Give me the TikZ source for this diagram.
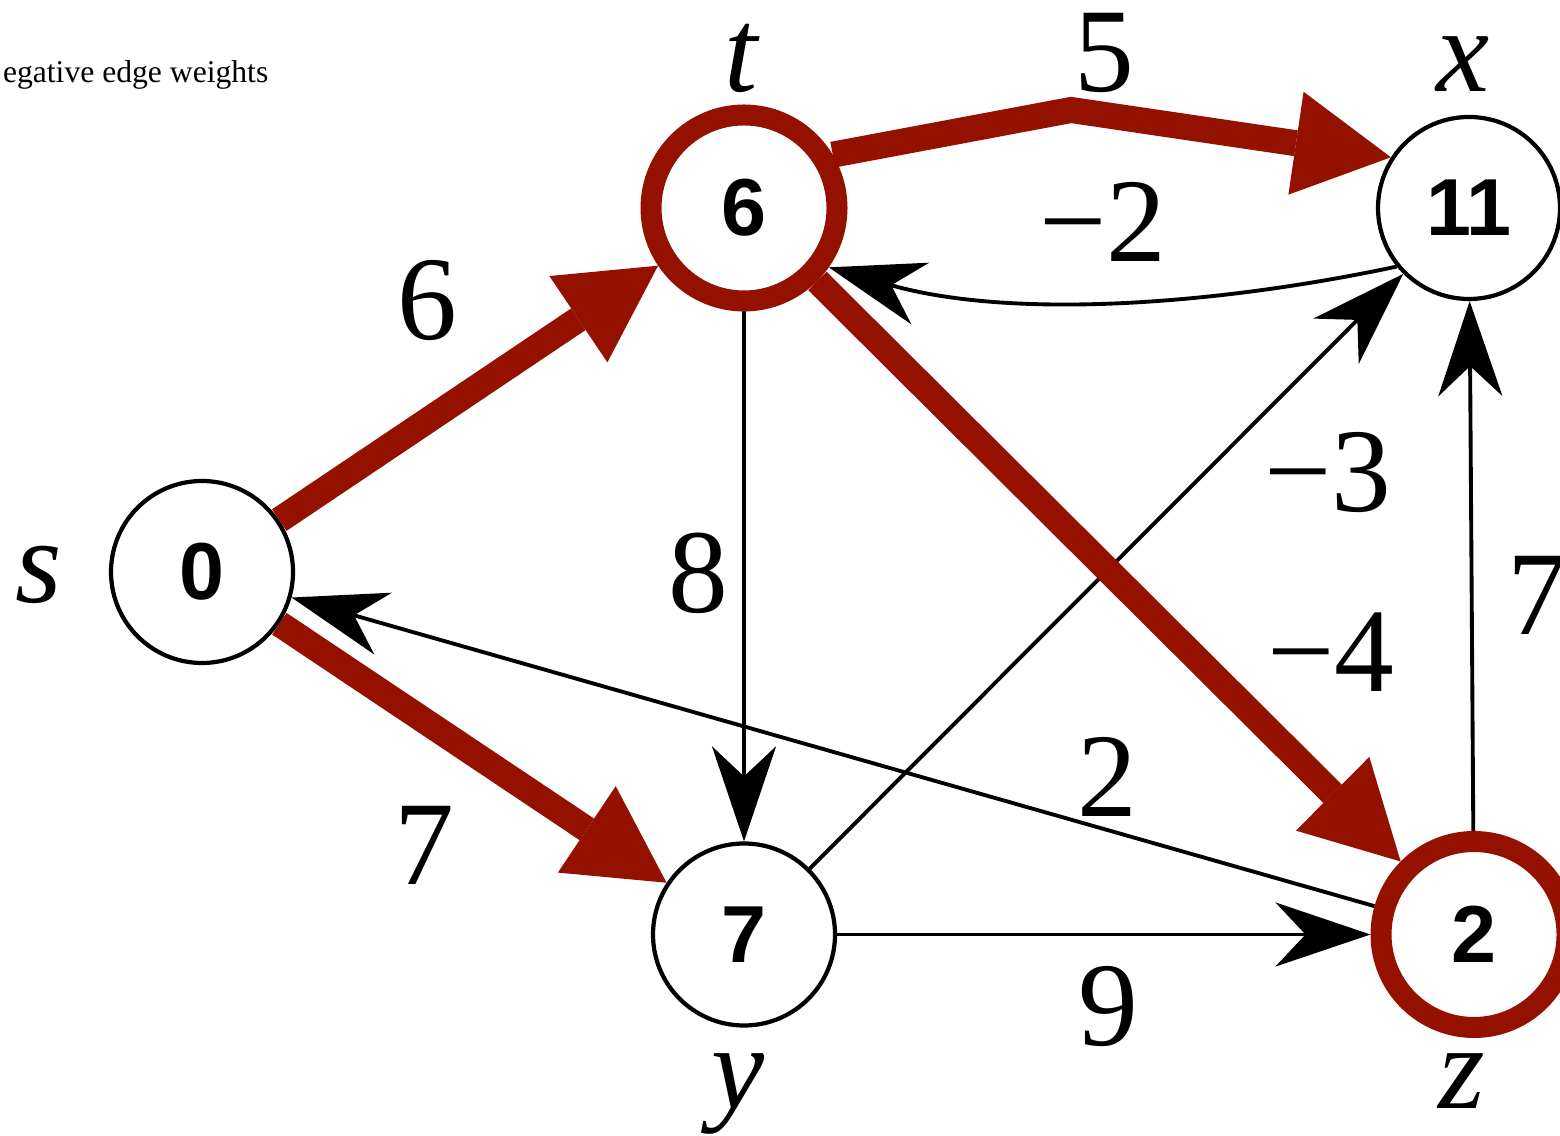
\documentclass[tikz,border=0pt]{standalone}
\usepackage{fontspec}
\setmainfont{Liberation Serif}
\setsansfont{Liberation Sans}
\usepackage{xcolor}
\usetikzlibrary{arrows.meta}
\definecolor{pathred}{RGB}{148,17,0}

\begin{document}
\begin{tikzpicture}[
  vert/.style={draw, circle, line width=1.2pt, minimum size=1.82cm, inner sep=0pt, font=\sffamily\bfseries\fontsize{23}{26}\selectfont},
  hivert/.style={vert, draw=pathred, line width=2.1mm, minimum size=1.86cm},
  lbl/.style={anchor=base, inner sep=0pt, font=\fontsize{34}{40}\selectfont},
  vlbl/.style={lbl, font=\itshape\fontsize{34}{40}\selectfont},
  arr/.style={-{Stealth[length=9.5mm, width=6.4mm, inset=3mm]}, line width=1.1pt},
  sparr/.style={-{Triangle[length=9.6mm, width=10.4mm, line width=0pt]}, draw=pathred, line width=2.6mm}
]
\useasboundingbox (0,0) rectangle (15.6,11.35);

\node[anchor=base east, inner sep=0pt, font=\fontsize{9}{11}\selectfont] (cap) at (2.69,10.52) {egative edge weights};

% vertices with their distances
\node[vert] (s) at (2.02,5.63) {0};
\node[hivert] (t) at (7.44,9.27) {6};
\node[vert] (x) at (14.69,9.27) {11};
\node[vert] (y) at (7.44,2.005) {7};
\node[hivert] (z) at (14.74,2.005) {2};

\node[vlbl] (ls) at (0.39,5.32) {s};
\node[vlbl] (lt) at (7.41,10.43) {t};
\node[vlbl] (lx) at (14.63,10.43) {x};
\node[vlbl] (ly) at (7.38,0.27) {y};
\node[vlbl] (lz) at (14.62,0.27) {z};

% edges
\draw[arr] (x.219) to[out=192, in=-16, looseness=.85] (t.-35);
\draw[arr] (t) -- (y);
\draw[arr] (y) -- (x);
\draw[arr] (z) -- (x);
\draw[arr] (z) -- (s);
\draw[arr] (y) -- (z);

% shortest-path tree
\coordinate (tx) at (10.71,10.25);
\draw[sparr] (s) -- (t);
\draw[sparr] (s) -- (y);
\draw[sparr] (t) -- (z);
\draw[sparr] (t.31) -- (tx) -- (x.147);

% weights
\node[lbl] (w-tx) at (11.04,10.43) {5};
\node[lbl] (w-xt) at (11.03,8.73) {−2};
\node[lbl] (w-st) at (4.27,7.95) {6};
\node[lbl] (w-ty) at (6.98,5.22) {8};
\node[lbl] (w-yx) at (13.28,6.23) {−3};
\node[lbl] (w-tz) at (13.31,4.43) {−4};
\node[lbl] (w-zx) at (15.37,5.00) {7};
\node[lbl] (w-zs) at (11.07,3.18) {2};
\node[lbl] (w-sy) at (4.24,2.50) {7};
\node[lbl] (w-yz) at (11.08,0.90) {9};
\end{tikzpicture}
\end{document}
